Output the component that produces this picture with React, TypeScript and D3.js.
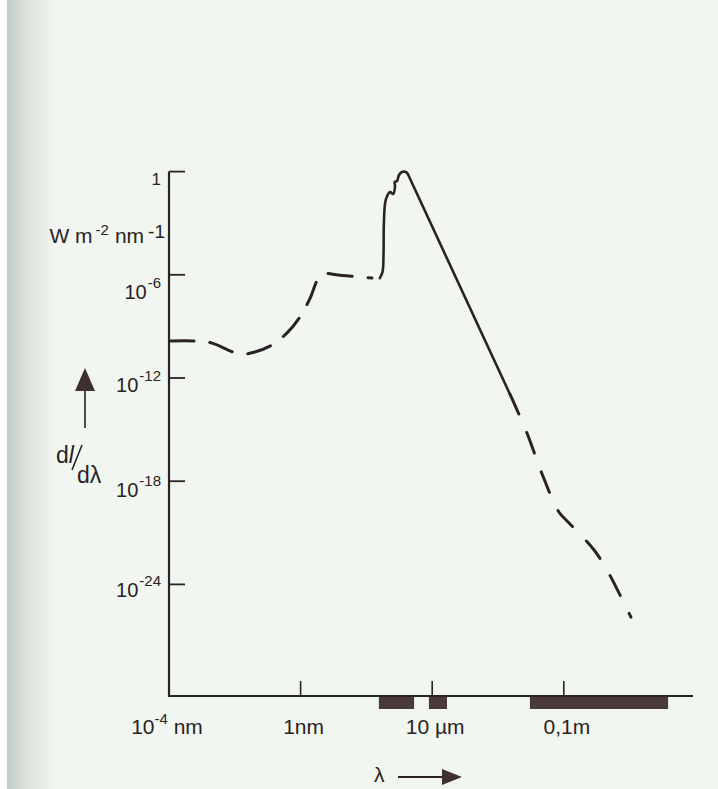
import * as d3 from 'd3'

// spectrum: log10(wavelength / nm) and log10(dI/dλ / W m-2 nm-1)
const uvXrayLogL = [-3.97, -3.21, -2.69, -2.05, -1.69, -1.39, -0.87, -0.41, -0.02, 0.29, 0.53, 0.71, 1.14, 1.78, 2.17]
const uvXrayLogI = [-9.85, -9.85, -9.97, -10.49, -10.6, -10.49, -10.08, -9.38, -8.45, -7.35, -6.24, -5.95, -6.01, -6.13, -6.19]

const visibleLogL = [2.41, 2.49, 2.52, 2.53, 2.57, 2.63, 2.72, 2.81, 2.87, 2.86, 2.93, 2.99, 3.08, 3.2, 3.26]
const visibleLogI = [-6.19, -5.84, -4.85, -3.1, -1.82, -1.42, -1.19, -1.3, -0.84, -0.6, -0.55, -0.2, -0.02, -0.02, -0.14]

const infraredLogL = [3.26, 6.36]
const infraredLogI = [-0.14, -12.93]

const radioLogL = [6.36, 6.88, 7.34, 7.85, 8.13, 8.52, 8.92, 9.28, 9.74, 10.04]
const radioLogI = [-12.93, -15.2, -17.58, -19.79, -20.37, -21.13, -22.0, -23.05, -24.73, -25.9]

// atmospheric windows (log10 nm)
const windowStart = [2.38, 3.9, 6.97]
const windowEnd = [3.45, 4.45, 11.17]

const yTickExp = [0, -6, -12, -18, -24]
const yTickBase = ['1', '10', '10', '10', '10']
const yTickSup = ['', '-6', '-12', '-18', '-24']

const xTickExp = [-4, 0, 4, 8]
const xTickMain = ['10', '1nm', '10 µm', '0,1m']
const xTickSup = ['-4', '', '', '']
const xTickUnit = [' nm', '', '', '']

const W = 718
const H = 789
const ink = '#2a2224'
const font = '"Liberation Sans", Arial, Helvetica, sans-serif'

// hand-placed label baselines in the print are a bit uneven
const yLabelNudge = [13, 24, 14, 16, 13]

export default function App() {
  const x = d3.scaleLog().domain([1e-4, 1e12]).range([169, 695.4])
  const y = d3.scaleLog().domain([1e-24, 1]).range([584.4, 171.6])
  const axisBottom = 696

  const pts = (ls: number[], is: number[]) => ls.map((l, i) => [x(10 ** l), y(10 ** is[i])] as [number, number])

  const smooth = d3.line().curve(d3.curveCatmullRom.alpha(0.5))
  const straight = d3.line()

  return (
    <svg
      width={W}
      height={H}
      style={{ position: 'absolute', left: 0, top: 0, display: 'block' }}
      fontFamily={font}
    >
      <defs>
        <linearGradient id="edge" x1="0" x2="1" y1="0" y2="0">
          <stop offset="0" stopColor="#c3cac4" />
          <stop offset="0.35" stopColor="#d9dfd9" />
          <stop offset="1" stopColor="#f2f6f1" />
        </linearGradient>
      </defs>
      <rect width={W} height={H} fill="#f2f6f1" />
      <rect x={0} y={0} width={7} height={H} fill="#fbfcfb" />
      <rect x={7} y={0} width={48} height={H} fill="url(#edge)" />

      {/* axes */}
      <g stroke={ink} strokeWidth={2.2} fill="none">
        <line x1={x(1e-4)} x2={x(1e-4)} y1={y(1)} y2={axisBottom} />
        <line x1={x(1e-4) - 1} x2={693} y1={axisBottom} y2={axisBottom} />
        {yTickExp.map((e) => (
          <line key={e} x1={x(1e-4)} x2={x(1e-4) + 16} y1={y(10 ** e)} y2={y(10 ** e)} strokeWidth={1.8} />
        ))}
        {xTickExp.slice(1).map((e) => (
          <line key={e} x1={x(10 ** e)} x2={x(10 ** e)} y1={axisBottom} y2={axisBottom - 15} strokeWidth={1.6} />
        ))}
      </g>

      {/* atmospheric windows */}
      {windowStart.map((s, i) => (
        <rect
          key={i}
          x={x(10 ** s)}
          y={axisBottom + 1}
          width={x(10 ** windowEnd[i]) - x(10 ** s)}
          height={12}
          fill="#4b3a3b"
        />
      ))}

      {/* spectrum */}
      <g fill="none" stroke={ink} strokeLinecap="round" strokeLinejoin="round">
        <path d={smooth(pts(uvXrayLogL, uvXrayLogI)) ?? ''} strokeWidth={3} strokeDasharray="24 16" />
        <path d={smooth(pts(visibleLogL, visibleLogI)) ?? ''} strokeWidth={2.6} />
        <path d={straight(pts(infraredLogL, infraredLogI)) ?? ''} strokeWidth={2.6} />
        <path
          d={smooth(pts(radioLogL, radioLogI)) ?? ''}
          strokeWidth={3}
          strokeDasharray="22 20"
          strokeDashoffset={42}
        />
      </g>

      {/* y tick labels */}
      <g fill={ink} textAnchor="end">
        {yTickExp.map((e, i) => (
          <text key={e} x={161} y={y(10 ** e) + yLabelNudge[i]} fontSize={i === 0 ? 17 : 20}>
            {yTickBase[i]}
            {yTickSup[i] && (
              <tspan dx={1} dy={-11} fontSize={15}>
                {yTickSup[i]}
              </tspan>
            )}
          </text>
        ))}
      </g>

      {/* unit */}
      <text x={165} y={243} textAnchor="end" fill={ink} fontSize={21}>
        W m
        <tspan dx={3} dy={-8} fontSize={15}>-2</tspan>
        <tspan dx={6} dy={8}>nm</tspan>
        <tspan dx={4} dy={-5} fontSize={19}>-1</tspan>
      </text>

      {/* dI/dλ with arrow */}
      <g fill={ink} stroke="none">
        <line x1={85} x2={85} y1={428} y2={386} stroke={ink} strokeWidth={1.6} />
        <path d="M85,368 L95,391 L75,391 Z" fill="#3e2f31" />
        <text x={56} y={463} fontSize={23}>
          d<tspan fontStyle="italic">l</tspan>
        </text>
        <line x1={82} y1={445} x2={72} y2={470} stroke={ink} strokeWidth={1.6} />
        <text x={77} y={483} fontSize={23}>dλ</text>
      </g>

      {/* x tick labels */}
      <g fill={ink} textAnchor="middle">
        {xTickExp.map((e, i) => (
          <text key={e} x={x(10 ** e) + (i === 0 ? -2 : 3)} y={734} fontSize={21}>
            {xTickMain[i]}
            {xTickSup[i] && (
              <tspan dy={-10} fontSize={15}>
                {xTickSup[i]}
              </tspan>
            )}
            {xTickUnit[i] && <tspan dy={10}>{xTickUnit[i]}</tspan>}
          </text>
        ))}
      </g>

      {/* λ arrow */}
      <text x={374} y={782} fill={ink} fontSize={21}>λ</text>
      <line x1={398} x2={446} y1={777} y2={777} stroke={ink} strokeWidth={1.8} />
      <path d="M462,777 L442,769 L442,785 Z" fill="#3e2f31" />
    </svg>
  )
}
